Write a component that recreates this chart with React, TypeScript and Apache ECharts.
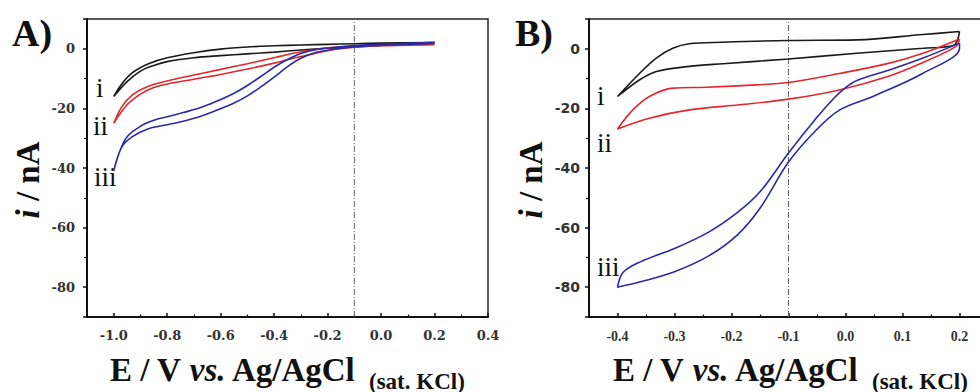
import React, { useEffect, useRef } from 'react';
import * as echarts from 'echarts';

// ---------- Panel A data (E / V, i / nA), each curve is a closed CV loop ----------
const aBlackE = [0.2, 0.0, -0.1, -0.2, -0.3, -0.4, -0.5, -0.6, -0.7, -0.8, -0.85, -0.9, -0.95, -1.0, -0.97, -0.93, -0.87, -0.8, -0.7, -0.6, -0.5, -0.4, -0.3, -0.2, -0.1, 0.0, 0.2];
const aBlackI = [1.8, 1.1, 0.7, 0.2, -0.4, -1.1, -1.7, -2.3, -3.0, -4.3, -5.6, -7.5, -11.0, -16.0, -11.8, -8.0, -5.0, -3.0, -1.3, -0.1, 0.6, 1.0, 1.3, 1.5, 1.7, 1.9, 2.1];

const aRedE = [0.2, 0.0, -0.1, -0.2, -0.3, -0.4, -0.5, -0.6, -0.7, -0.8, -0.85, -0.9, -0.95, -1.0, -0.97, -0.93, -0.87, -0.8, -0.7, -0.6, -0.5, -0.4, -0.3, -0.2, -0.1, 0.0, 0.2];
const aRedI = [1.4, 1.0, 0.5, -0.6, -2.6, -4.8, -6.8, -8.6, -10.2, -11.8, -13.0, -15.2, -18.8, -25.0, -19.5, -15.5, -12.6, -10.8, -8.8, -6.9, -5.0, -3.0, -1.0, 0.3, 0.9, 1.2, 1.7];

const aBlueE = [0.2, 0.0, -0.1, -0.18, -0.25, -0.3, -0.35, -0.4, -0.45, -0.5, -0.55, -0.62, -0.68, -0.74, -0.8, -0.87, -0.93, -0.97, -1.0, -0.98, -0.95, -0.9, -0.85, -0.8, -0.74, -0.68, -0.62, -0.55, -0.5, -0.45, -0.4, -0.35, -0.3, -0.24, -0.1, 0.0, 0.2];
const aBlueI = [1.8, 1.2, 0.6, -0.2, -1.4, -3.2, -6.0, -9.5, -12.8, -15.8, -18.2, -20.8, -22.8, -24.3, -25.5, -26.8, -29.5, -33.0, -41.0, -35.0, -29.5, -26.0, -24.0, -22.8, -21.4, -19.9, -17.8, -14.9, -12.3, -9.3, -6.2, -3.6, -1.6, -0.2, 1.1, 1.5, 2.2];

// ---------- Panel B data ----------
const bBlackE = [0.2, 0.136, 0.02, -0.1, -0.215, -0.274, -0.303, -0.332, -0.361, -0.4, -0.361, -0.332, -0.274, -0.215, -0.1, 0.02, 0.136, 0.19, 0.2];
const bBlackI = [5.8, 4.8, 3.0, 2.8, 2.2, 1.7, 0.2, -3.1, -8.2, -16.0, -10.4, -7.6, -5.9, -5.0, -3.4, -1.5, 0.2, 1.2, 5.8];

const bRedE = [0.2, 0.136, 0.077, -0.011, -0.1, -0.157, -0.244, -0.303, -0.344, -0.373, -0.4, -0.344, -0.274, -0.186, -0.1, -0.011, 0.077, 0.136, 0.194, 0.2];
const bRedI = [3.3, -1.5, -4.8, -8.3, -11.3, -12.1, -12.9, -13.2, -16.0, -20.5, -26.9, -23.3, -20.5, -18.8, -16.9, -13.8, -9.1, -4.6, 0.8, 3.3];

const bBlueE = [0.2, 0.136, 0.077, 0.02, 0.0, -0.02, -0.05, -0.1, -0.15, -0.19, -0.24, -0.3, -0.36, -0.39, -0.4, -0.36, -0.3, -0.24, -0.19, -0.15, -0.1, -0.05, -0.01, 0.048, 0.136, 0.2, 0.2];
const bBlueI = [1.9, -3.1, -7.1, -10.6, -13.0, -16.5, -23.0, -35.0, -48.0, -55.0, -61.5, -67.0, -71.5, -75.0, -80.0, -78.2, -74.8, -69.5, -62.5, -53.5, -38.0, -27.0, -20.5, -16.0, -8.2, 0.2, 1.9];

// reference potential (dash-dot marker)
const refE = -0.1;
const yRange = [-90, 10];

// label texts
const panelLabels = ['A)', 'B)'];
const curveLabels = ['i', 'ii', 'iii'];

const BLACK = '#1a1a1a';
const RED = '#e0282e';
const BLUE = '#2a2aa8';

const zip = (xs: number[], ys: number[]) => xs.map((x, k) => [x, ys[k]]);

export default function App() {
  const ref = useRef<HTMLDivElement>(null);
  useEffect(() => {
    if (!ref.current) return;
    const chart = echarts.init(ref.current, undefined, { renderer: 'svg' });

    const curve = (xs: number[], ys: number[], color: string, g: number) => ({
      type: 'line',
      xAxisIndex: g,
      yAxisIndex: g,
      data: zip(xs, ys),
      showSymbol: false,
      smooth: 0.35,
      lineStyle: { color, width: 1.6 },
      silent: true,
    });
    const refLine = (g: number) => ({
      type: 'line',
      xAxisIndex: g,
      yAxisIndex: g,
      data: [[refE, yRange[0]], [refE, yRange[1]]],
      showSymbol: false,
      lineStyle: { color: '#666', width: 1, type: [6, 2, 1, 2] },
      silent: true,
    });

    const xAxisCommon = {
      type: 'value',
      splitNumber: 7,
      splitLine: { show: false },
      axisLine: { onZero: false, lineStyle: { color: '#111', width: 2 } },
      axisTick: { inside: true, length: 4, lineStyle: { color: '#111', width: 1.5 } },
      minorTick: { show: true, splitNumber: 2, length: 2.5, lineStyle: { color: '#111', width: 1.2 } },
    };
    const yAxisCommon = {
      type: 'value',
      min: yRange[0],
      max: yRange[1],
      splitNumber: 5,
      splitLine: { show: false },
      axisLine: { onZero: false, lineStyle: { color: '#111', width: 2 } },
      axisTick: { inside: false, length: 4, lineStyle: { color: '#111', width: 1.5 } },
      minorTick: { show: true, splitNumber: 2, length: 3, lineStyle: { color: '#111', width: 1.2 } },
    };
    const yFmt = (v: number) => (Math.abs(v % 20) < 1e-6 && v <= 0 && v >= -80 ? String(v) : '');

    const option = {
      animation: false,
      backgroundColor: '#ffffff',
      grid: [
        { left: 87, top: 19, width: 401, height: 298, show: true, borderColor: '#222', borderWidth: 1.5, outerBoundsMode: 'none', containLabel: false },
        { left: 589, top: 19, width: 399, height: 298, show: true, borderColor: '#222', borderWidth: 1.5, outerBoundsMode: 'none', containLabel: false },
      ],
      xAxis: [
        {
          ...xAxisCommon,
          gridIndex: 0,
          min: -1.1,
          max: 0.4,
          axisLabel: {
            margin: 12,
            color: '#333',
            fontFamily: 'DejaVu Serif',
            fontWeight: 'bold',
            fontSize: 13,
            formatter: (v: number) => {
              const k = Math.round(v * 5);
              return Math.abs(v * 5 - k) < 1e-6 ? (k / 5).toFixed(1) : '';
            },
          },
        },
        {
          ...xAxisCommon,
          gridIndex: 1,
          min: -0.45,
          max: 0.25,
          axisLabel: {
            margin: 12,
            color: '#333',
            fontFamily: 'Liberation Serif',
            fontWeight: 'bold',
            fontSize: 14,
            formatter: (v: number) => {
              const k = Math.round(v * 10);
              return Math.abs(v * 10 - k) < 1e-6 && k >= -4 && k <= 2 ? (k / 10).toFixed(1) : '';
            },
          },
        },
      ],
      yAxis: [
        {
          ...yAxisCommon,
          gridIndex: 0,
          axisLabel: { margin: 12, color: '#333', fontFamily: 'DejaVu Serif', fontWeight: 'bold', fontSize: 13, formatter: yFmt },
        },
        {
          ...yAxisCommon,
          gridIndex: 1,
          axisLabel: { margin: 9, color: '#333', fontFamily: 'DejaVu Sans', fontWeight: 'bold', fontSize: 14, formatter: yFmt },
        },
      ],
      series: [
        refLine(0),
        curve(aBlackE, aBlackI, BLACK, 0),
        curve(aRedE, aRedI, RED, 0),
        curve(aBlueE, aBlueI, BLUE, 0),
        refLine(1),
        curve(bBlackE, bBlackI, BLACK, 1),
        curve(bRedE, bRedI, RED, 1),
        curve(bBlueE, bBlueI, BLUE, 1),
      ],
      graphic: [
        // panel labels
        { type: 'text', x: 12, y: 32.5, style: { text: panelLabels[0], font: 'bold 38px "Liberation Serif"', fill: '#111', textVerticalAlign: 'middle' } },
        { type: 'text', x: 515, y: 32.5, style: { text: panelLabels[1], font: 'bold 38px "Liberation Serif"', fill: '#111', textVerticalAlign: 'middle' } },
        // curve labels A
        { type: 'text', x: 96, y: 88, style: { text: curveLabels[0], font: '27px "Liberation Serif"', fill: '#111', textVerticalAlign: 'middle' } },
        { type: 'text', x: 93, y: 126, style: { text: curveLabels[1], font: '27px "Liberation Serif"', fill: '#111', textVerticalAlign: 'middle' } },
        { type: 'text', x: 94, y: 177, style: { text: curveLabels[2], font: '27px "Liberation Serif"', fill: '#111', textVerticalAlign: 'middle' } },
        // curve labels B
        { type: 'text', x: 597, y: 96, style: { text: curveLabels[0], font: '27px "Liberation Serif"', fill: '#111', textVerticalAlign: 'middle' } },
        { type: 'text', x: 597, y: 143, style: { text: curveLabels[1], font: '27px "Liberation Serif"', fill: '#111', textVerticalAlign: 'middle' } },
        { type: 'text', x: 597, y: 267, style: { text: curveLabels[2], font: '27px "Liberation Serif"', fill: '#111', textVerticalAlign: 'middle' } },
        // y titles
        ...[28, 531].map((cx) => ({
          type: 'text',
          x: cx,
          y: 180,
          rotation: Math.PI / 2,
          style: {
            text: '{it|i}{n| / nA}',
            textAlign: 'center',
            textVerticalAlign: 'middle',
            fill: '#111',
            rich: {
              it: { font: 'italic bold 33px "Liberation Serif"', fill: '#111' },
              n: { font: 'bold 33px "Liberation Serif"', fill: '#111' },
            },
          },
        })),
        // x titles
        ...[
          [110, 369],
          [613, 872],
        ].map(([mx, sx]) => ({
          type: 'group',
          children: [
            {
              type: 'text',
              x: mx,
              y: 370,
              style: {
                text: '{n|E / V }{it|vs.}{n| Ag/AgCl}',
                textVerticalAlign: 'middle',
                fill: '#111',
                rich: {
                  n: { font: 'bold 33px "Liberation Serif"', fill: '#111' },
                  it: { font: 'italic bold 33px "Liberation Serif"', fill: '#111' },
                },
              },
            },
            {
              type: 'text',
              x: sx,
              y: 381,
              style: { text: '(sat. KCl)', font: 'bold 23px "Liberation Serif"', fill: '#111', textVerticalAlign: 'middle' },
            },
          ],
        })),
      ],
    };

    chart.setOption(option as any);
    return () => chart.dispose();
  }, []);

  return <div ref={ref} style={{ position: 'fixed', left: 0, top: 0, width: 980, height: 392 }} />;
}
